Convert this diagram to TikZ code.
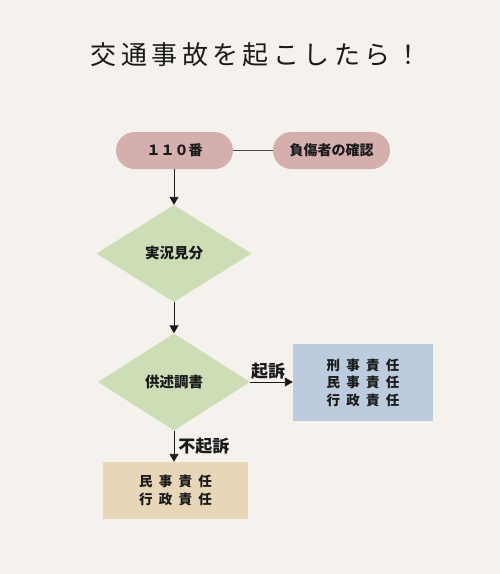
\documentclass[tikz,border=0pt]{standalone}
\usepackage{fontspec}
\setmainfont{Noto Sans CJK JP}
\newfontfamily\titlefont[LetterSpace=17]{Noto Sans CJK JP}
\newfontfamily\boxfont[WordSpace=2]{Noto Sans CJK JP}
\usetikzlibrary{shapes.geometric,arrows.meta}
\definecolor{bg}{HTML}{F5F2EE}
\definecolor{pinkc}{HTML}{D5AEAE}
\definecolor{greenc}{HTML}{CDDDB6}
\definecolor{bluec}{HTML}{BCCCDE}
\definecolor{tanc}{HTML}{E7D6B8}
\definecolor{ink}{HTML}{1A1A1A}
\tikzset{
  pill/.style={rectangle, rounded corners=18.5pt, fill=pinkc, draw=none, minimum width=117pt, minimum height=37pt, inner sep=0pt, text=ink, font=\fontsize{14}{16}\selectfont\bfseries},
  dia/.style={diamond, fill=greenc, draw=none, minimum width=155pt, minimum height=97pt, inner sep=0pt, text=ink, font=\fontsize{14.5}{16}\selectfont\bfseries},
  resbox/.style={rectangle, draw=none, inner sep=0pt, align=center, text=ink, font=\boxfont\fontsize{13.5}{17.5}\selectfont\bfseries},
  arr/.style={draw=ink, line width=0.9pt, -{Triangle[width=9pt,length=8pt]}},
  lbl/.style={text=ink, font=\fontsize{17}{19}\selectfont\bfseries, inner sep=2pt}
}
\begin{document}
\begin{tikzpicture}[x=1pt,y=-1pt]
\fill[bg] (0,0) rectangle (500,574);
\useasboundingbox (0,0) rectangle (500,574);
\node[text=ink, font=\titlefont\fontsize{26}{29}\selectfont] (title) at (256,55) {交通事故を起こしたら！};
\node[pill] (p1) at (174.5,150.5) {１１０番};
\node[pill] (p2) at (331.5,150.5) {負傷者の確認};
\node[dia] (d1) at (174,253.5) {実況見分};
\node[dia, minimum width=152pt] (d2) at (174,382) {供述調書};
\node[resbox, fill=bluec, minimum width=140pt, minimum height=77pt] (kiso) at (363,382.5) {刑 事 責 任\\民 事 責 任\\行 政 責 任};
\node[resbox, fill=tanc, minimum width=145pt, minimum height=57pt] (fukiso) at (175.5,490.5) {民 事 責 任\\行 政 責 任};
\draw[draw=ink!80, line width=0.9pt] (p1) -- (p2);
\draw[arr] (p1.south -| d1.north) -- (d1.north);
\draw[arr] (d1.south) -- (d2.north);
\draw[arr] (d2.east) -- node[lbl, above, pos=0.42] {起訴} (kiso.west |- d2.east);
\draw[arr] (d2.south) -- node[lbl, right, xshift=2pt] {不起訴} (fukiso.north -| d2.south);
\end{tikzpicture}
\end{document}
